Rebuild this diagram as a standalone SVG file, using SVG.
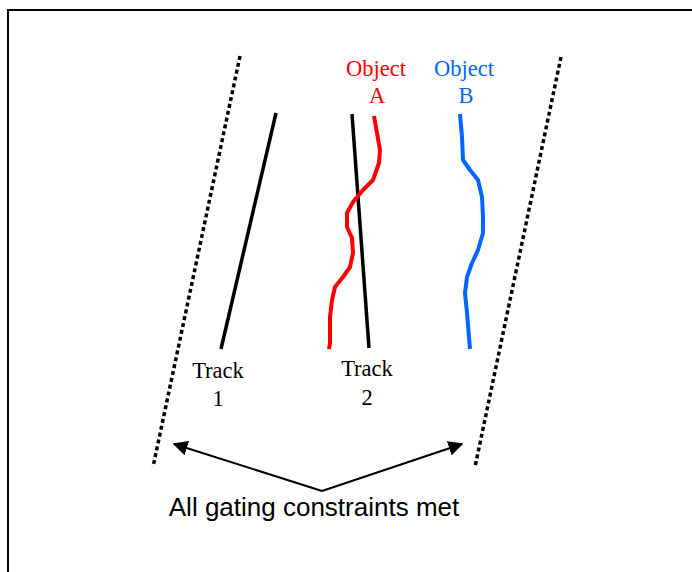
<svg xmlns="http://www.w3.org/2000/svg" width="692" height="572" viewBox="0 0 692 572">
<defs>
<style>
.serif{font-family:"Liberation Serif","Times New Roman",serif;font-size:22.5px;text-anchor:middle}
.sans{font-family:"Liberation Sans",Arial,sans-serif;font-size:26px;text-anchor:middle;fill:#000}
.dot{stroke:#000;stroke-width:3.5;stroke-dasharray:4 3;fill:none}
.track{stroke:#000;stroke-width:3.5;fill:none}
.obj{stroke-width:4;fill:none;stroke-linejoin:round;stroke-linecap:butt}
.conn{stroke:#000;stroke-width:2;fill:none}
</style>
<marker id="ah" viewBox="0 0 10 10" refX="9" refY="5" markerWidth="15" markerHeight="15" markerUnits="userSpaceOnUse" orient="auto">
<path d="M0,0 L10,5 L0,10 z" fill="#000"/>
</marker>
</defs>
<rect x="0" y="0" width="692" height="572" fill="#fff"/>
<rect id="frame" x="8" y="10" width="720" height="600" fill="none" stroke="#000" stroke-width="2"/>
<g id="gate-left"><line class="dot" x1="240" y1="56" x2="153" y2="467"/></g>
<g id="gate-right"><line class="dot" x1="561" y1="57" x2="475" y2="467"/></g>
<g id="track1">
<line class="track" x1="276" y1="113" x2="221" y2="349"/>
<text class="serif" x="218" y="378">Track</text>
<text class="serif" x="218" y="406">1</text>
</g>
<g id="track2">
<line class="track" x1="352" y1="114" x2="369" y2="348"/>
<text class="serif" x="367" y="376">Track</text>
<text class="serif" x="367" y="405">2</text>
</g>
<g id="objectA">
<polyline class="obj" stroke="#ff0000" points="374,116 377,133 380,150 379,163 373,180 363,190 353,202 347,213 347,227 352,238 353,253 350,267 343,277 335,287 332,300 330,317 330,343 329,349"/>
<text class="serif" x="376" y="76" fill="#ff0000">Object</text>
<text class="serif" x="377" y="103" fill="#ff0000">A</text>
</g>
<g id="objectB">
<polyline class="obj" stroke="#0066ff" points="460,114 462,137 463,160 470,170 478,180 482,197 483,217 483,233 478,250 472,263 467,277 465,293 467,313 470,349"/>
<text class="serif" x="464" y="76" fill="#0066ff">Object</text>
<text class="serif" x="466" y="103" fill="#0066ff">B</text>
</g>
<g id="connectors">
<line class="conn" x1="322" y1="491" x2="174" y2="444" marker-end="url(#ah)"/>
<line class="conn" x1="322" y1="491" x2="462" y2="444" marker-end="url(#ah)"/>
</g>
<g id="label"><text class="sans" x="314" y="516">All gating constraints met</text></g>
</svg>
